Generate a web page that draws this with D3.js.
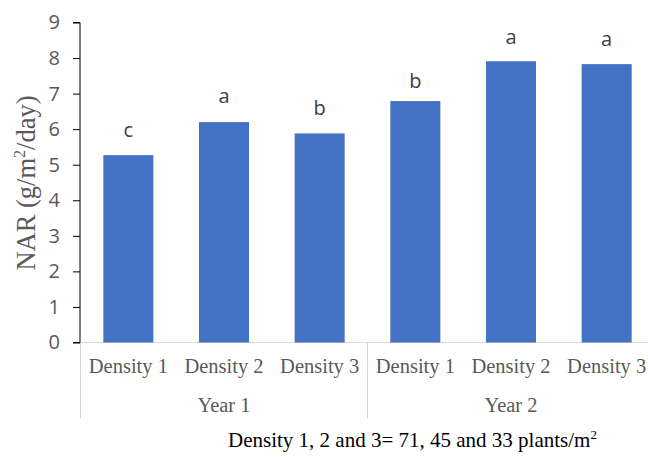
<!DOCTYPE html>
<html><head><meta charset="utf-8">
<script src="https://cdn.jsdelivr.net/npm/d3@7"></script>
<style>html,body{margin:0;padding:0;background:#fff;}svg{display:block;}</style>
</head><body>
<svg id="chart" width="648" height="457"></svg>
<script>
const categories = ["Density 1","Density 2","Density 3","Density 1","Density 2","Density 3"];
const groups = ["Year 1","Year 2"];
const values = [5.27, 6.20, 5.88, 6.79, 7.91, 7.83];
const letters = ["c","a","b","b","a","a"];
const letterHeights = [5.79, 6.73, 6.40, 7.15, 8.39, 8.35];
const yTicks = [0,1,2,3,4,5,6,7,8,9];

const svg = d3.select("#chart");
const x0 = 80.5, x1 = 654.5, yTop = 22.5, yBot = 342.5;
const x = d3.scaleBand().domain(d3.range(categories.length)).range([x0, x1]);
const y = d3.scaleLinear().domain([0, 9]).range([yBot, yTop]);
const barW = x.bandwidth() * 0.523;
const grey = "#595959", lineGrey = "#D9D9D9", blue = "#4472C4";

// horizontal axis line
svg.append("line").attr("x1", x0).attr("x2", x1).attr("y1", yBot).attr("y2", yBot)
  .attr("stroke", lineGrey).attr("stroke-width", 1);

// group dividers
const groupSize = categories.length / groups.length;
[0, groupSize, categories.length].forEach(i => {
  const xx = i < categories.length ? x(i) : x1;
  svg.append("line").attr("x1", xx).attr("x2", xx).attr("y1", yBot).attr("y2", 418)
    .attr("stroke", lineGrey).attr("stroke-width", 1);
});

// bars
svg.append("g").selectAll("rect").data(values).join("rect")
  .attr("x", (d, i) => x(i) + x.bandwidth() / 2 - barW / 2)
  .attr("width", barW)
  .attr("y", d => y(d))
  .attr("height", d => yBot - y(d))
  .attr("fill", blue);

// letters
svg.append("g").selectAll("text").data(letters).join("text")
  .attr("x", (d, i) => x(i) + x.bandwidth() / 2)
  .attr("y", (d, i) => y(letterHeights[i]))
  .attr("text-anchor", "middle")
  .attr("font-family", "'Open Sans', sans-serif")
  .attr("font-size", 20)
  .attr("fill", "#404040")
  .text(d => d);

// y axis
const yAxis = d3.axisLeft(y).tickValues(yTicks).tickSize(7).tickPadding(13).tickFormat(d3.format("d"));
const gy = svg.append("g").attr("transform", `translate(80,0)`).call(yAxis);
gy.select(".domain").attr("stroke", "#000").attr("d", `M-7,${yTop}H0V${yBot}H-7`);
gy.selectAll(".tick line").attr("stroke", "#000");
gy.selectAll(".tick text").attr("font-family", "'Open Sans', sans-serif")
  .attr("font-size", 20).attr("fill", grey);

// category labels
svg.append("g").selectAll("text").data(categories).join("text")
  .attr("x", (d, i) => x(i) + x.bandwidth() / 2)
  .attr("y", 373)
  .attr("text-anchor", "middle")
  .attr("font-family", "'Liberation Serif', 'Times New Roman', serif")
  .attr("font-size", 20.5)
  .attr("fill", grey)
  .text(d => d);

// group labels
svg.append("g").selectAll("text").data(groups).join("text")
  .attr("x", (d, i) => {
    const a = x(i * groupSize);
    const b = (i + 1) * groupSize < categories.length ? x((i + 1) * groupSize) : x1;
    return (a + b) / 2;
  })
  .attr("y", 412)
  .attr("text-anchor", "middle")
  .attr("font-family", "'Liberation Serif', 'Times New Roman', serif")
  .attr("font-size", 20.5)
  .attr("fill", grey)
  .text(d => d);

// y label
const yl = svg.append("text")
  .attr("transform", "translate(35,183) rotate(-90)")
  .attr("text-anchor", "middle")
  .attr("font-family", "'Liberation Serif', 'Times New Roman', serif")
  .attr("font-size", 26.5)
  .attr("fill", grey);
yl.append("tspan").text("NAR (g/m");
yl.append("tspan").attr("font-size", 16).attr("dy", -10).text("2");
yl.append("tspan").attr("dy", 10).text("/day)");

// footnote
const fn = svg.append("text")
  .attr("x", 228).attr("y", 447)
  .attr("font-family", "'Liberation Serif', 'Times New Roman', serif")
  .attr("font-size", 21)
  .attr("fill", "#000");
fn.append("tspan").text("Density 1, 2 and 3= 71, 45 and 33 plants/m");
fn.append("tspan").attr("font-size", 13).attr("dy", -8).text("2");
</script>
</body></html>
